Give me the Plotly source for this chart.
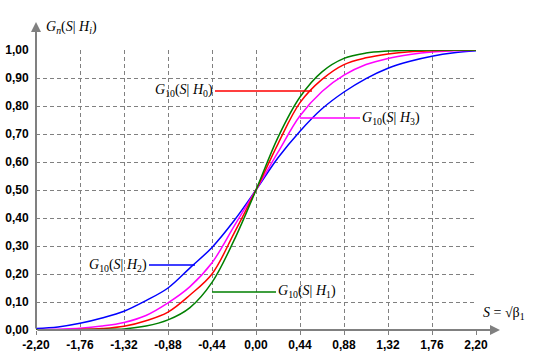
import plotly.graph_objects as go

# ---- data ----
S = [-2.20, -1.98, -1.76, -1.54, -1.32, -1.10, -0.88, -0.66, -0.44, -0.22, 0.00,
     0.22, 0.44, 0.66, 0.88, 1.10, 1.32, 1.54, 1.76, 1.98, 2.20]
G_H2 = [0.005, 0.011, 0.024, 0.043, 0.067, 0.105, 0.150, 0.222, 0.295, 0.390, 0.500,
        0.615, 0.710, 0.790, 0.850, 0.898, 0.935, 0.960, 0.978, 0.990, 0.997]
G_H3 = [0.001, 0.003, 0.006, 0.014, 0.027, 0.052, 0.097, 0.155, 0.240, 0.370, 0.500,
        0.635, 0.765, 0.852, 0.910, 0.948, 0.970, 0.984, 0.993, 0.997, 0.999]
G_H0 = [0.000, 0.001, 0.002, 0.005, 0.013, 0.033, 0.064, 0.125, 0.200, 0.345, 0.500,
        0.665, 0.812, 0.895, 0.948, 0.972, 0.986, 0.994, 0.997, 0.999, 1.000]
G_H1 = [0.000, 0.000, 0.001, 0.002, 0.004, 0.014, 0.036, 0.080, 0.170, 0.320, 0.500,
        0.688, 0.832, 0.922, 0.970, 0.989, 0.996, 0.999, 1.000, 1.000, 1.000]

x_ticks = [-2.20, -1.76, -1.32, -0.88, -0.44, 0.00, 0.44, 0.88, 1.32, 1.76, 2.20]
x_tick_text = ["-2,20", "-1,76", "-1,32", "-0,88", "-0,44", "0,00", "0,44", "0,88", "1,32", "1,76", "2,20"]
y_ticks = [0.0, 0.1, 0.2, 0.3, 0.4, 0.5, 0.6, 0.7, 0.8, 0.9, 1.0]
y_tick_text = ["0,00", "0,10", "0,20", "0,30", "0,40", "0,50", "0,60", "0,70", "0,80", "0,90", "1,00"]

series = [
    ("H2", G_H2, "#0000FF"),
    ("H3", G_H3, "#FF00FF"),
    ("H0", G_H0, "#FF0000"),
    ("H1", G_H1, "#008000"),
]

# label: (index, point on curve S, G, text anchor S, text side, colour)
labels = [
    ("0", 0.56, 0.854, -0.41, "right", "#FF0000"),
    ("3", 0.44, 0.757, 1.04, "left", "#FF00FF"),
    ("2", -0.61, 0.232, -1.07, "right", "#0000FF"),
    ("1", -0.44, 0.136, 0.20, "left", "#008000"),
]

fig = go.Figure()
for name, ys, col in series:
    fig.add_trace(go.Scatter(x=S, y=ys, mode="lines", line=dict(color=col, width=1.5, shape="spline"),
                             name=name, showlegend=False, hoverinfo="skip"))

serif = "Liberation Serif, Times New Roman, serif"
sans = "Liberation Sans, Arial, sans-serif"
annotations = []
for idx, px, py, tx, side, col in labels:
    annotations.append(dict(
        x=px, y=py, xref="x", yref="y", axref="x", ayref="y", ax=tx, ay=py,
        text="<i>G</i><sub>10</sub>(<i>S</i>| <i>H</i><sub>%s</sub>)" % idx,
        xanchor=side, yanchor="middle",
        showarrow=True, arrowhead=0, arrowwidth=1.5, arrowcolor=col, standoff=0,
        font=dict(family=serif, size=14, color="black"),
    ))

# axis arrows
annotations.append(dict(x=2.44, y=0, xref="x", yref="y", axref="x", ayref="y", ax=-2.2, ay=0,
                        text="", showarrow=True, arrowhead=2, arrowsize=1, arrowwidth=2,
                        arrowcolor="#808080", standoff=0))
annotations.append(dict(x=-2.2, y=1.1, xref="x", yref="y", axref="x", ayref="y", ax=-2.2, ay=0,
                        text="", showarrow=True, arrowhead=2, arrowsize=1, arrowwidth=2,
                        arrowcolor="#808080", standoff=0))
# axis titles
annotations.append(dict(x=0.018, y=1.08, xref="paper", yref="paper", xanchor="left", yanchor="middle",
                        text="<i>G</i><sub><i>n</i></sub>(<i>S</i>| <i>H</i><sub><i>i</i></sub>)",
                        showarrow=False, font=dict(family=serif, size=14, color="black")))
annotations.append(dict(x=1.012, y=0.058, xref="paper", yref="paper", xanchor="left", yanchor="middle",
                        text="<i>S</i> = √β<sub>1</sub>",
                        showarrow=False, font=dict(family=serif, size=14, color="black")))

fig.update_layout(
    width=540, height=360,
    margin=dict(l=36, r=64, t=50, b=30, autoexpand=False),
    plot_bgcolor="white", paper_bgcolor="white",
    annotations=annotations,
    xaxis=dict(range=[-2.2, 2.2], tickvals=x_ticks, ticktext=x_tick_text, automargin=False,
               showgrid=True, gridcolor="#808080", griddash="4px,3px", gridwidth=1,
               zeroline=False, showline=False, ticks="outside", ticklen=4, tickcolor="#808080",
               tickfont=dict(family=sans, size=12, color="black", weight="bold"),
               fixedrange=True),
    yaxis=dict(range=[0, 1.0], tickvals=y_ticks, ticktext=y_tick_text, automargin=False,
               showgrid=True, gridcolor="#808080", griddash="4px,3px", gridwidth=1,
               zeroline=False, showline=False, ticks="outside", ticklen=4, tickcolor="rgba(0,0,0,0)",
               tickfont=dict(family=sans, size=12, color="black", weight="bold"),
               fixedrange=True),
)

fig.write_html("out.html", config={"displayModeBar": False, "staticPlot": True},
               post_script="document.body.style.margin='0';document.body.style.overflow='hidden';")
